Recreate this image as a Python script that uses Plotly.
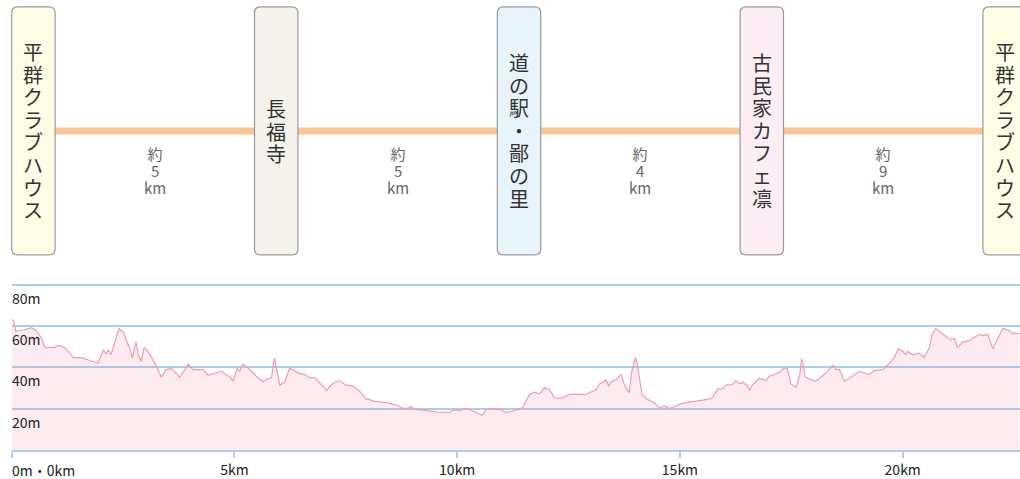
import plotly.graph_objects as go

# ---------------- data ----------------
stations = ["平群クラブハウス", "長福寺", "道の駅・鄙の里", "古民家カフェ凛", "平群クラブハウス"]
station_colors = ["#fffde6", "#f5f2ec", "#e8f4fc", "#fdeef5", "#fffde6"]
leg_km = ["5", "5", "4", "9"]

dist_km = [0.00, 0.05, 0.09, 0.26, 0.45, 0.56, 0.67, 0.75, 0.93, 1.08, 1.20, 1.38, 1.61, 1.76, 1.94,
           2.06, 2.12, 2.17, 2.23, 2.41, 2.52, 2.58, 2.65, 2.71, 2.79, 2.84, 2.91, 2.97, 3.06, 3.25,
           3.36, 3.46, 3.59, 3.77, 3.89, 3.96, 4.07, 4.30, 4.41, 4.60, 4.71, 4.90, 4.97, 5.06, 5.12,
           5.19, 5.31, 5.49, 5.64, 5.75, 5.83, 5.90, 6.02, 6.13, 6.24, 6.43, 6.58, 6.69, 6.80, 6.95,
           7.03, 7.06, 7.14, 7.25, 7.36, 7.51, 7.66, 7.81, 7.96, 8.03, 8.11, 8.41, 8.63, 8.78, 8.89,
           8.97, 9.04, 9.30, 9.53, 9.83, 9.90, 10.05, 10.16, 10.27, 10.42, 10.56, 10.65, 10.83, 10.95,
           11.10, 11.25, 11.47, 11.62, 11.73, 11.85, 11.96, 12.07, 12.18, 12.33, 12.52, 12.89, 13.12,
           13.19, 13.30, 13.34, 13.40, 13.45, 13.57, 13.68, 13.75, 13.86, 13.92, 14.00, 14.05, 14.15,
           14.27, 14.42, 14.55, 14.65, 14.76, 14.87, 14.98, 15.13, 15.43, 15.62, 15.73, 15.85, 15.96,
           16.03, 16.18, 16.26, 16.33, 16.41, 16.52, 16.56, 16.63, 16.78, 16.93, 17.00, 17.15, 17.26,
           17.34, 17.41, 17.49, 17.61, 17.69, 17.73, 17.77, 17.81, 17.94, 18.05, 18.24, 18.44, 18.50,
           18.58, 18.69, 18.80, 19.03, 19.25, 19.36, 19.55, 19.66, 19.81, 19.90, 19.99, 20.07, 20.11,
           20.22, 20.37, 20.48, 20.60, 20.66, 20.74, 20.97, 21.08, 21.16, 21.23, 21.34, 21.49, 21.57,
           21.72, 21.79, 21.91, 22.02, 22.13, 22.25, 22.36, 22.47, 22.62]
elev_m = [63.4, 62.1, 57.6, 58.1, 59.2, 57.6, 54.1, 49.6, 49.6, 50.6, 49.3, 44.8, 44.5, 43.2, 42.1,
          48.5, 46.4, 48.5, 46.1, 58.9, 56.5, 52.5, 49.3, 44.5, 52.5, 46.1, 42.9, 49.6, 47.7, 40.5,
          35.2, 38.9, 39.4, 35.2, 38.9, 41.6, 38.9, 38.9, 36.2, 37.6, 38.1, 35.2, 33.3, 39.4, 38.1,
          41.6, 39.7, 35.7, 33.0, 34.6, 34.9, 44.5, 31.4, 33.0, 39.7, 37.3, 36.5, 34.9, 34.9, 31.7,
          30.1, 28.5, 30.9, 32.8, 33.5, 31.4, 30.9, 28.5, 24.5, 24.5, 23.7, 22.9, 21.8, 20.2, 20.2,
          21.0, 19.7, 19.2, 18.4, 18.1, 19.4, 19.2, 20.0, 19.7, 18.1, 16.8, 19.7, 20.2, 19.7,
          18.1, 18.9, 20.5, 26.9, 28.0, 27.2, 30.1, 29.3, 25.3, 25.0, 26.9, 26.9, 29.3,
          32.0, 33.0, 34.1, 30.9, 33.0, 34.1, 36.5, 31.7, 27.7, 38.1, 44.8, 40.5, 26.6,
          24.5, 22.9, 20.2, 21.3, 20.2, 20.8, 22.1, 22.9, 23.7, 24.5, 25.3, 29.6, 29.6,
          31.4, 31.7, 33.6, 32.0, 32.8, 30.9, 28.8, 31.7, 34.6, 33.6, 35.7, 36.8, 38.1,
          39.7, 39.4, 32.0, 30.4, 36.5, 44.2, 41.3, 35.2, 34.1, 33.3, 36.5, 41.0, 38.9,
          38.9, 33.3, 34.6, 38.1, 36.5, 38.4, 38.9, 41.0, 44.8, 49.0, 48.0, 46.1, 47.7,
          46.1, 46.9, 44.8, 49.6, 55.7, 58.9, 54.9, 53.3, 54.1, 49.3, 52.2, 52.8, 54.1,
          56.0, 55.4, 56.0, 49.0, 54.1, 58.9, 58.1, 56.5, 56.5]

y_ticks = [20, 40, 60, 80]
x_ticks = [0, 5, 10, 15, 20]
x_tick_text = ["", "5km", "10km", "15km", "20km"]

# ---------------- figure ----------------
W, H = 1020, 479
PX_PER_IDX = 242.8      # spacing between station boxes (px)
PX_PER_UNIT_Y = 131.5   # top diagram: one y unit in px
PX_PER_M = 166 / 80     # elevation scale
grid_col = "#a8cfee"
font_jp = "Noto Sans CJK JP"

fig = go.Figure()

# elevation profile
fig.add_trace(go.Scatter(
    x=dist_km, y=elev_m, mode="lines", fill="tozeroy",
    fillcolor="rgba(240,128,150,0.15)",
    line=dict(color="#f29ab0", width=1.2),
    hoverinfo="skip", xaxis="x", yaxis="y"))

# route line in top diagram
fig.add_trace(go.Scatter(
    x=[0, len(stations) - 1], y=[0, 0], mode="lines",
    line=dict(color="#f9c597", width=7),
    hoverinfo="skip", xaxis="x2", yaxis="y2"))

shapes = []
annotations = []
bw = 21.7 / PX_PER_IDX
bh = 124.5 / PX_PER_UNIT_Y
rx = 6 / PX_PER_IDX
ry = 6 / PX_PER_UNIT_Y


def vertical(text, glyph_px):
    return "<br>".join(f"<span style='font-size:{glyph_px}px'>{c}</span>" for c in text)


for i, (name, col) in enumerate(zip(stations, station_colors)):
    x0, x1 = i - bw, i + bw
    y0, y1 = -bh, bh
    path = (f"M {x0+rx},{y1} L {x1-rx},{y1} Q {x1},{y1} {x1},{y1-ry} "
            f"L {x1},{y0+ry} Q {x1},{y0} {x1-rx},{y0} L {x0+rx},{y0} "
            f"Q {x0},{y0} {x0},{y0+ry} L {x0},{y1-ry} Q {x0},{y1} {x0+rx},{y1} Z")
    shapes.append(dict(type="path", path=path, xref="x2", yref="y2",
                       fillcolor=col, line=dict(color="#9a9a9a", width=1.2), layer="above"))
    # line pitch = 1.3 * font size -> 22.6 px, glyphs drawn at 20 px
    annotations.append(dict(x=i, y=0, xref="x2", yref="y2", text=vertical(name, 20),
                            showarrow=False, align="center",
                            font=dict(family=font_jp, size=22.6 / 1.3, color="#333333"),
                            xanchor="center", yanchor="middle"))

for i, d in enumerate(leg_km):
    annotations.append(dict(x=i + 0.5, y=-(171 - 131.5) / PX_PER_UNIT_Y, xref="x2", yref="y2",
                            text=vertical(["約", d, "km"], 15),
                            showarrow=False, align="center",
                            font=dict(family=font_jp, size=16.8 / 1.3, color="#666666"),
                            xanchor="center", yanchor="middle"))

# y labels inside plot, below grid lines
for v in y_ticks:
    annotations.append(dict(x=0, y=v, xref="x", yref="y", text=f"{v}m", showarrow=False,
                            font=dict(family=font_jp, size=14, color="#222222"),
                            xanchor="left", yanchor="top", yshift=-1, xshift=-2))
annotations.append(dict(x=0, y=0, xref="x", yref="y", text="0m・0km", showarrow=False,
                        font=dict(family=font_jp, size=14, color="#222222"),
                        xanchor="left", yanchor="top", yshift=-8, xshift=-2))

x_left = 11.7
km_px = 44.55
y_top = 82
fig.update_layout(
    width=W, height=H,
    margin=dict(l=0, r=0, t=0, b=27),
    paper_bgcolor="white", plot_bgcolor="white",
    showlegend=False, hovermode=False,
    xaxis=dict(domain=[x_left / W, 1], range=[0, (W - x_left) / km_px],
               tickvals=x_ticks, ticktext=x_tick_text,
               showgrid=False, zeroline=False,
               showline=True, linecolor=grid_col, linewidth=2,
               ticks="outside", ticklen=6, tickwidth=1.5, tickcolor=grid_col,
               tickfont=dict(family=font_jp, size=14, color="#222222"),
               fixedrange=True),
    yaxis=dict(domain=[0, y_top * PX_PER_M / 452], range=[0, y_top],
               tickvals=y_ticks, showticklabels=False,
               showgrid=True, gridcolor=grid_col, gridwidth=2,
               zeroline=False, showline=False, fixedrange=True),
    xaxis2=dict(domain=[0, 1], range=[-33.4 / PX_PER_IDX, (W - 33.4) / PX_PER_IDX],
                visible=False, fixedrange=True, anchor="y2"),
    yaxis2=dict(domain=[1 - 263 / 452, 1], range=[-1, 1],
                visible=False, fixedrange=True, anchor="x2"),
    shapes=shapes, annotations=annotations,
)

fig.write_html(
    "out.html",
    config={"displayModeBar": False},
    post_script="document.body.style.margin='0';document.body.style.overflow='hidden';",
)
